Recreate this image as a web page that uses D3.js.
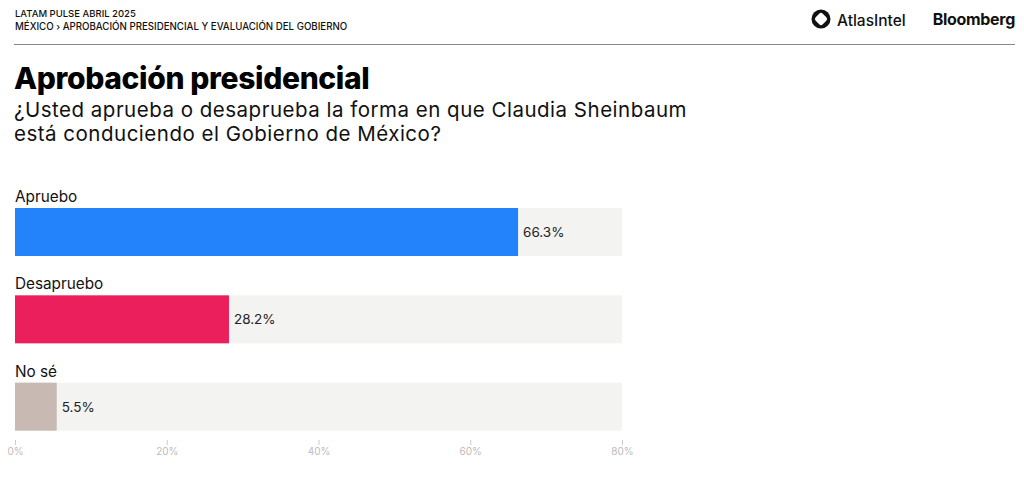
<!DOCTYPE html>
<html>
<head>
<meta charset="utf-8">
<script src="https://cdn.jsdelivr.net/npm/d3@7"></script>
<style>
  body { margin: 0; background: #fff; }
  svg { display: block; }
</style>
</head>
<body>
<div id="chart"></div>
<script>
// data
var categories = ["Apruebo", "Desapruebo", "No sé"];
var values = [66.3, 28.2, 5.5];
var barColors = ["#2383fb", "#ec1f5d", "#c8bab2"];
var tickValues = [0, 20, 40, 60, 80];

var W = 1024, H = 486;
var svg = d3.select("#chart").append("svg")
    .attr("width", W)
    .attr("height", H);

var inter = "Inter, sans-serif";

// header
svg.append("text")
    .attr("x", 15).attr("y", 17)
    .attr("font-family", inter)
    .attr("font-size", 9.5).attr("font-weight", 500)
    .attr("fill", "#111")
    .text("LATAM PULSE ABRIL 2025");
svg.append("text")
    .attr("x", 15).attr("y", 30)
    .attr("font-family", inter)
    .attr("font-size", 9.7).attr("font-weight", 500)
    .attr("fill", "#111")
    .text("MÉXICO › APROBACIÓN PRESIDENCIAL Y EVALUACIÓN DEL GOBIERNO");
svg.append("line")
    .attr("x1", 14).attr("x2", 1015)
    .attr("y1", 44.5).attr("y2", 44.5)
    .attr("stroke", "#888").attr("stroke-width", 1);

// logos
var logo = svg.append("g").attr("transform", "translate(821,19)");
logo.append("circle").attr("r", 9.5).attr("fill", "#111");
logo.append("rect")
    .attr("x", -5).attr("y", -5).attr("width", 10).attr("height", 10)
    .attr("rx", 2.5)
    .attr("transform", "rotate(45)")
    .attr("fill", "#fff");
svg.append("text")
    .attr("x", 837).attr("y", 25.5)
    .attr("font-family", inter)
    .attr("font-size", 15.5).attr("font-weight", 500)
    .attr("fill", "#111")
    .text("AtlasIntel");
svg.append("text")
    .attr("x", 1015).attr("y", 25)
    .attr("text-anchor", "end")
    .attr("font-family", inter)
    .attr("font-size", 16).attr("font-weight", 700)
    .attr("letter-spacing", -0.3)
    .attr("fill", "#111")
    .text("Bloomberg");

// title block
svg.append("text")
    .attr("x", 14).attr("y", 89)
    .attr("font-family", inter)
    .attr("font-size", 30).attr("font-weight", 800)
    .attr("letter-spacing", -0.35)
    .attr("fill", "#000")
    .text("Aprobación presidencial");
svg.append("text")
    .attr("x", 14).attr("y", 117)
    .attr("font-family", inter)
    .attr("font-size", 20.5)
    .attr("letter-spacing", 0.5)
    .attr("fill", "#111")
    .text("¿Usted aprueba o desaprueba la forma en que Claudia Sheinbaum");
svg.append("text")
    .attr("x", 14).attr("y", 141)
    .attr("font-family", inter)
    .attr("font-size", 20.5)
    .attr("letter-spacing", 0.5)
    .attr("fill", "#111")
    .text("está conduciendo el Gobierno de México?");

// scales
var x = d3.scaleLinear().domain([0, 80]).range([15, 622]);
var y = d3.scaleBand().domain(categories).range([208, 470]).paddingInner(0);
var barH = 48;

var rows = svg.selectAll("g.row")
    .data(categories)
    .enter().append("g")
    .attr("class", "row")
    .attr("transform", function(d) { return "translate(0," + y(d) + ")"; });

// background track
rows.append("rect")
    .attr("x", x(0))
    .attr("y", 0)
    .attr("width", x(80) - x(0))
    .attr("height", barH)
    .attr("fill", "#f3f3f2");

rows.append("rect")
    .attr("x", x(0))
    .attr("y", 0)
    .attr("width", function(d, i) { return x(values[i]) - x(0); })
    .attr("height", barH)
    .attr("fill", function(d, i) { return barColors[i]; });

rows.append("text")
    .attr("x", x(0))
    .attr("y", -6)
    .attr("font-family", inter)
    .attr("font-size", 15.3)
    .attr("fill", "#111")
    .text(function(d) { return d; });

rows.append("text")
    .attr("x", function(d, i) { return x(values[i]) + 5; })
    .attr("y", barH / 2 + 5)
    .attr("font-family", inter)
    .attr("font-size", 13.5)
    .attr("fill", "#222")
    .text(function(d, i) { return values[i].toFixed(1) + "%"; });

// axis
var axis = svg.append("g")
    .attr("transform", "translate(0,440)")
    .call(d3.axisBottom(x).tickValues(tickValues)
        .tickSize(5).tickPadding(3)
        .tickFormat(function(d) { return d + "%"; }));
axis.select(".domain").remove();
axis.selectAll("line").attr("stroke", "#ccc");
axis.selectAll("text")
    .attr("fill", "#bbb")
    .attr("font-family", inter)
    .attr("font-size", 10);
</script>
</body>
</html>
